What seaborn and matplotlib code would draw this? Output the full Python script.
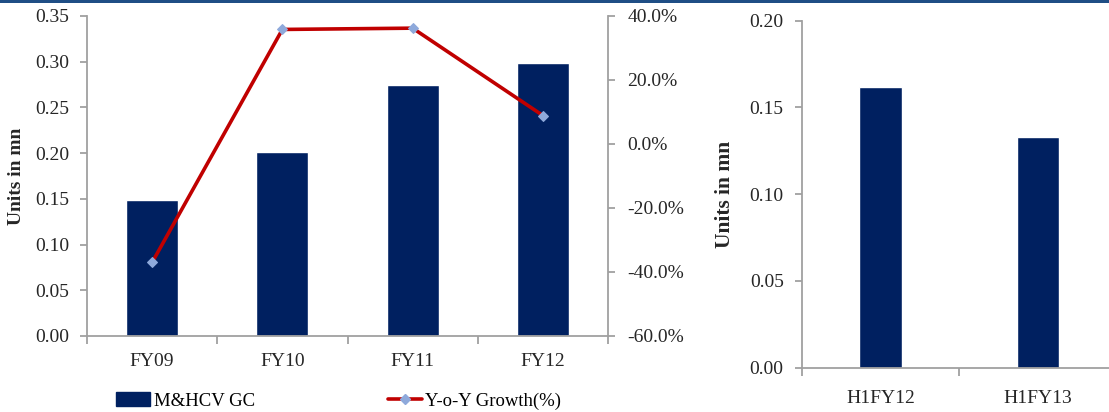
import numpy as np
import pandas as pd
import matplotlib
matplotlib.use("Agg")
import matplotlib.pyplot as plt
from matplotlib.patches import Patch, Rectangle
from matplotlib.lines import Line2D
from matplotlib.ticker import FuncFormatter, MultipleLocator
import seaborn as sns

# ---- data ----
years = ["FY09", "FY10", "FY11", "FY12"]
volume_mn = [0.149, 0.201, 0.274, 0.299]
yoy_growth_pct = [-37.0, 35.8, 36.2, 8.9]
halves = ["H1FY12", "H1FY13"]
half_volume_mn = [0.162, 0.133]

BAR = "#002060"
LINE = "#C00000"
MARK = "#8EA9DB"
SPINE = "#A0A0A0"

sns.set_style("white")
plt.rcParams["font.family"] = ["Liberation Serif", "DejaVu Serif"]
plt.rcParams["text.color"] = "black"

W, H = 1109, 412
fig = plt.figure(figsize=(W / 100, H / 100), dpi=100)

def frac_box(x0, x1, ytop, ybot):
    return [x0 / W, 1 - ybot / H, (x1 - x0) / W, (ybot - ytop) / H]

# ---- left chart ----
ax = fig.add_axes(frac_box(87, 608, 16, 336))
df = pd.DataFrame({"year": years, "vol": volume_mn, "g": yoy_growth_pct})
sns.barplot(data=df, x="year", y="vol", color=BAR, width=0.4, saturation=1, ax=ax)
ax.set_ylim(0, 0.35)
ax.yaxis.set_major_locator(MultipleLocator(0.05))
ax.yaxis.set_major_formatter(FuncFormatter(lambda v, p: f"{v:.2f}"))
ax.set_xlabel("")
ax.set_ylabel("Units in mn", fontsize=14, fontweight="bold")
ax.yaxis.set_label_coords(-0.119, 0.5)

ax2 = ax.twinx()
sns.lineplot(data=df, x="year", y="g", ax=ax2, color=LINE, linewidth=2.6,
             marker="D", markersize=5, markerfacecolor=MARK, markeredgecolor=MARK,
             sort=False, legend=False)
ax2.set_ylim(-60, 40)
ax2.yaxis.set_major_locator(MultipleLocator(20))
ax2.yaxis.set_major_formatter(FuncFormatter(lambda v, p: f"{v:.1f}%"))
ax2.set_ylabel("")
ax2.set_xlabel("")
ax.set_xlim(-0.5, len(years) - 0.5)

for a in (ax, ax2):
    for s in a.spines.values():
        s.set_color(SPINE)
        s.set_linewidth(1.3)
    a.spines["top"].set_visible(False)
ax.spines["right"].set_visible(False)
ax2.spines["left"].set_visible(False)
ax2.spines["bottom"].set_visible(False)
ax.tick_params(axis="y", which="major", length=5, color=SPINE, width=1.3,
               labelsize=14, pad=8, left=True)
ax2.tick_params(axis="y", which="major", length=5, color=SPINE, width=1.3,
                labelsize=14, pad=9, right=True)
ax.set_xticks(np.arange(-0.5, len(years), 1), minor=True)
ax.tick_params(axis="x", which="major", length=0, labelsize=14, pad=12)
ax.tick_params(axis="x", which="minor", length=6, color=SPINE, width=1.3, bottom=True)

# ---- right chart ----
bx = fig.add_axes(frac_box(801.7, 1117, 20.7, 367.7))
dh = pd.DataFrame({"half": halves, "vol": half_volume_mn})
sns.barplot(data=dh, x="half", y="vol", color=BAR, width=0.27, saturation=1, ax=bx)
bx.set_ylim(0, 0.20)
bx.set_xlim(-0.5, len(halves) - 0.5)
bx.yaxis.set_major_locator(MultipleLocator(0.05))
bx.yaxis.set_major_formatter(FuncFormatter(lambda v, p: f"{v:.2f}"))
bx.set_xlabel("")
bx.set_ylabel("Units in mn", fontsize=15.5, fontweight="bold")
bx.yaxis.set_label_coords(-0.211, 0.5)
for s in bx.spines.values():
    s.set_color(SPINE)
    s.set_linewidth(1.3)
bx.spines["top"].set_visible(False)
bx.spines["right"].set_visible(False)
bx.tick_params(axis="y", which="major", length=5, color=SPINE, width=1.3,
               labelsize=14, pad=8, left=True)
bx.set_xticks(np.arange(-0.5, len(halves), 1), minor=True)
bx.tick_params(axis="x", which="major", length=0, labelsize=14, pad=16)
bx.tick_params(axis="x", which="minor", length=6, color=SPINE, width=1.3, bottom=True)

# ---- legend ----
handles = [Patch(facecolor=BAR, edgecolor=BAR),
           Line2D([0], [0], color=LINE, lw=2.6, marker="D", markersize=5,
                  markerfacecolor=MARK, markeredgecolor=MARK)]
fig.legend(handles, ["M&HCV GC", "Y-o-Y Growth(%)"], loc="center left",
           bbox_to_anchor=(116 / W, 1 - 401 / H), ncol=2, frameon=False,
           fontsize=13.5, handlelength=1.8, handleheight=0.7, handletextpad=0.2,
           columnspacing=7.1, borderpad=0, borderaxespad=0)

# ---- top band ----
fig.add_artist(Rectangle((0, 1 - 3 / H), 1, 3 / H, transform=fig.transFigure,
                         facecolor="#1F4E85", edgecolor="none"))

fig.savefig("out.png", dpi=100)
